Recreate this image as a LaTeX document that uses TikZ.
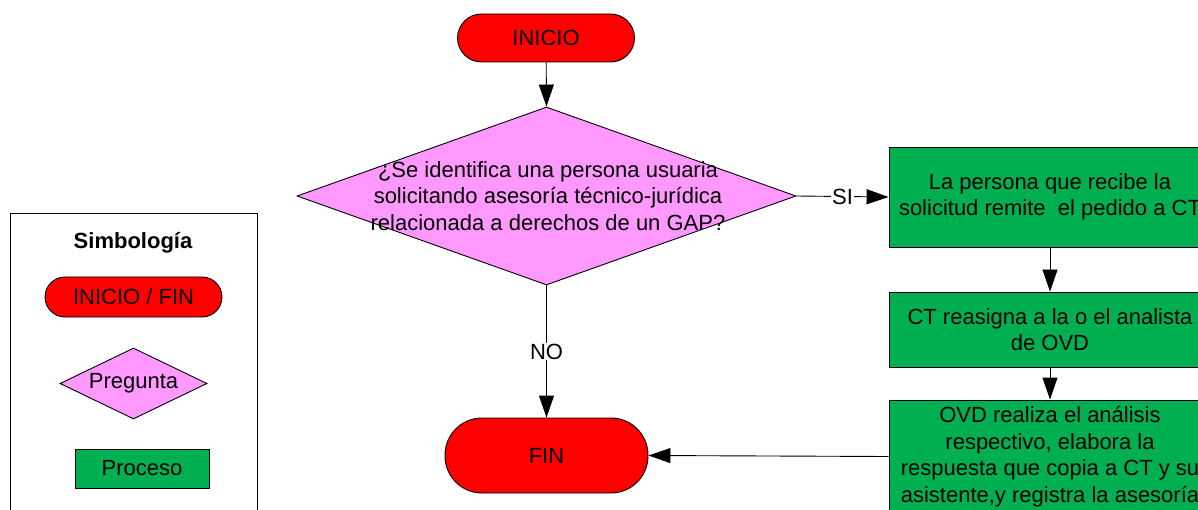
\documentclass[tikz,border=0pt]{standalone}
\usepackage{fontspec}
\setmainfont{Liberation Sans}
\usetikzlibrary{arrows.meta,shapes.geometric,positioning}
\definecolor{rojo}{HTML}{FF0000}
\definecolor{rosa}{HTML}{FF99FF}
\definecolor{verde}{HTML}{00B050}

\begin{document}
\begin{tikzpicture}[x=1pt,y=-1pt,line width=0.9pt,
    font=\fontsize{22}{26.5}\selectfont,
    >={Triangle[length=22pt,width=15pt]},
    terminal/.style={draw,fill=rojo,inner sep=0pt},
    pregunta/.style={draw,fill=rosa,shape=diamond,aspect=2,inner sep=0pt},
    proceso/.style={draw,fill=verde,inner sep=0pt,align=center},
    etiqueta/.style={fill=white,inner sep=1pt}]
    \useasboundingbox (0,0) rectangle (1198,510);
    \clip (0,0) rectangle (1198,510);

    \node[terminal,minimum width=177pt,minimum height=48pt,rounded corners=24pt] (inicio) at (546,38) {INICIO};
    \node[pregunta,minimum width=499pt,minimum height=178pt] (q) at (546.5,196) {};
    \node[align=center] (qtxt) at (548,196) {¿Se identifica una persona usuaria\\solicitando asesoría técnico-jurídica\\relacionada a derechos de un GAP?};
    \node[terminal,minimum width=203pt,minimum height=75pt,rounded corners=37pt] (fin) at (546.5,455.5) {FIN};

    \node[proceso,minimum width=322pt,minimum height=100pt] (p1) at (1050,197) {La persona que recibe la\\solicitud remite \ el pedido a CT};
    \node[proceso,minimum width=322pt,minimum height=75pt] (p2) at (1050,329.5) {CT reasigna a la o el analista\\de OVD};
    \node[proceso,minimum width=322pt,minimum height=113pt] (p3) at (1050,456.5) {OVD realiza el análisis\\respectivo, elabora la\\respuesta que copia a CT y su\\asistente,y registra la asesoría};

    \draw[->] (inicio) -- (q.north);
    \draw[->] (q.east) -- (p1.west) node[midway,etiqueta] {SI};
    \draw[->] (q.south) -- (fin.north) node[midway,etiqueta] {NO};
    \draw[->] (p1) -- (p2);
    \draw[->] (p2) -- (p3);
    \draw[->] (p3.west) -- (fin.east);

    \node[draw,anchor=north west,minimum width=247pt,minimum height=330pt] (leyenda) at (10,213) {};
    \node[font=\fontsize{22}{26}\selectfont\bfseries] (simb) at (133,243) {Simbología};
    \node[terminal,minimum width=177pt,minimum height=40pt,rounded corners=20pt] (lterm) at (133.5,297) {INICIO / FIN};
    \node[pregunta,minimum width=147pt,minimum height=71pt] (lpreg) at (133.5,383.5) {Pregunta};
    \node[proceso,minimum width=134pt,minimum height=39pt] (lproc) at (142,468.5) {Proceso};
\end{tikzpicture}
\end{document}
